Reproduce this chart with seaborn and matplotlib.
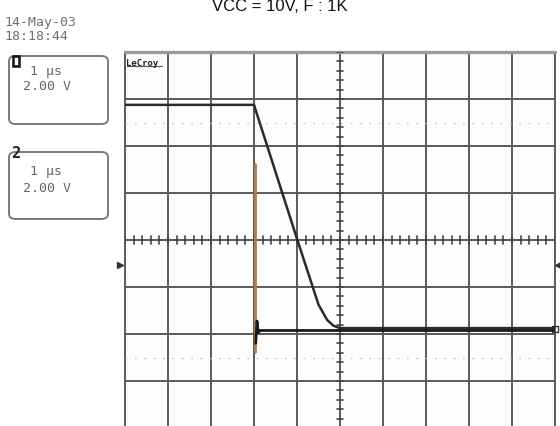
import numpy as np
import pandas as pd
import matplotlib.pyplot as plt
from matplotlib.patches import FancyBboxPatch, Rectangle
import seaborn as sns

# Screen settings (1 us/div horizontally, 2 V/div vertically)
x_divs = np.arange(-5, 6, 1)          # time grid, us
y_divs = np.arange(-8, 9, 2)          # volts grid (ends just below the crop)
ref_levels = [5.0, -5.0]              # dotted 10%/90% markers, V
ground_level = -1.06                  # channel offset marker, V

# Channel 1: switching edge (black)
ch1_t = [-5.0, -2.0, -1.5, -1.0, -0.5, -0.3, -0.15, 0.0, 5.0]
ch1_v = [5.75, 5.75, 2.9, 0.05, -2.75, -3.4, -3.65, -3.75, -3.75]

# Channel 2: gate step (orange edge) then low level (black)
ch2_edge_t = [-1.98, -1.98]
ch2_edge_v = [3.25, -4.75]
ch2_low_t = [-1.96, -1.93, -1.9, -1.86, 5.0]
ch2_low_v = [-4.4, -3.45, -3.95, -3.85, -3.85]

W, H = 560, 427
sns.set_theme(style="white")
plt.rcParams["font.family"] = ["Liberation Sans", "DejaVu Sans"]

fig = plt.figure(figsize=(W / 100, H / 100), dpi=100)
fig.patch.set_facecolor("white")


def fx(px):
    return px / W


def fy(py):
    return 1 - py / H


# plot area: x 125..555 px, y 53..429 px (bottom row cropped)
ax = fig.add_axes([fx(125), fy(429), fx(555) - fx(125), (429 - 53) / H])
ax.set_xlim(-5, 5)
ax.set_ylim(-8, 8)
ax.set_facecolor("#fdfdfd")
for s in ax.spines.values():
    s.set_visible(False)
ax.set_xticks([])
ax.set_yticks([])

grid_c = "#5a5a5a"
for xv in x_divs:
    ax.axvline(xv, color=grid_c, lw=1.4, zorder=1, clip_on=False)
for yv in y_divs:
    ax.axhline(yv, color=grid_c, lw=1.4, zorder=1, clip_on=False)
ax.axhline(8, color="#9a9a9a", lw=2.4, zorder=1, clip_on=False)

for rv in ref_levels:
    ax.axhline(rv, color="#c4c4c4", lw=0.9, ls=(0, (1.5, 6)), zorder=1)

# center cross minor ticks
for tx in np.arange(-5, 5.01, 0.2):
    ax.plot([tx, tx], [-0.16, 0.16], color="#444444", lw=1.2, zorder=2)
for ty in np.arange(-8, 8.01, 0.4):
    ax.plot([-0.08, 0.08], [ty, ty], color="#444444", lw=1.2, zorder=2)

df1 = pd.DataFrame({"t": ch1_t, "v": ch1_v})
df2e = pd.DataFrame({"t": ch2_edge_t, "v": ch2_edge_v})
df2l = pd.DataFrame({"t": ch2_low_t, "v": ch2_low_v})
sns.lineplot(data=df2e, x="t", y="v", sort=False, estimator=None, color="#ad7d58",
             linewidth=2.0, ax=ax, zorder=3)
sns.lineplot(data=df1, x="t", y="v", sort=False, estimator=None, color="#2a2a2a",
             linewidth=1.8, ax=ax, zorder=4)
sns.lineplot(data=df2l, x="t", y="v", sort=False, estimator=None, color="#1a1a1a",
             linewidth=2.0, ax=ax, zorder=4)
ax.set_xlabel("")
ax.set_ylabel("")

# channel offset markers
ax.plot([-5.12], [ground_level], marker=">", color="#333333", ms=5, clip_on=False)
ax.plot([5.08], [ground_level], marker="<", color="#333333", ms=5, clip_on=False)
ax.plot([5.0], [-3.8], marker="s", mfc="none", mec="#333333", ms=5, clip_on=False)

mono = "DejaVu Sans Mono"
ax.text(-4.97, 7.75, "LeCroy", fontsize=6.5, fontweight="bold", color="#222222",
        family=mono, va="top", ha="left")
ax.plot([-4.95, -4.15], [7.4, 7.4], color="#555555", lw=0.8)

# header texts
fig.text(0.5, fy(11), "VCC = 10V, F : 1K", ha="center", va="baseline",
         fontsize=12, color="#111111")
fig.text(fx(4), fy(26), "14-May-03", fontsize=9.5, family=mono, color="#707070", va="baseline")
fig.text(fx(4), fy(40), "18:18:44", fontsize=9.5, family=mono, color="#707070", va="baseline")

# channel boxes: (top, bottom, baseline of time/div, baseline of volts/div)
boxes = [(57, 125, 75, 90), (153, 220, 175, 192)]
for i, (top, bot, b1, b2) in enumerate(boxes):
    box = FancyBboxPatch((fx(9), fy(bot)), fx(108) - fx(9), (bot - top) / H,
                         boxstyle="round,pad=0,rounding_size=0.012",
                         transform=fig.transFigure, fc="white", ec="#7a7a7a", lw=1.4)
    fig.patches.append(box)
    fig.text(fx(46), fy(b1), "1 \u03bcs", fontsize=9.5, family=mono,
             color="#666666", ha="center", va="baseline")
    fig.text(fx(47), fy(b2), "2.00 V", fontsize=9.5, family=mono,
             color="#666666", ha="center", va="baseline")

# channel labels
fig.patches.append(Rectangle((fx(13), fy(67)), fx(6), 10 / H, transform=fig.transFigure,
                             fc="white", ec="#111111", lw=1.8))
fig.text(fx(11), fy(158), "2", fontsize=11, fontweight="bold", family=mono,
         color="#222222", va="baseline", ha="left")

fig.savefig("out.png", dpi=100)
